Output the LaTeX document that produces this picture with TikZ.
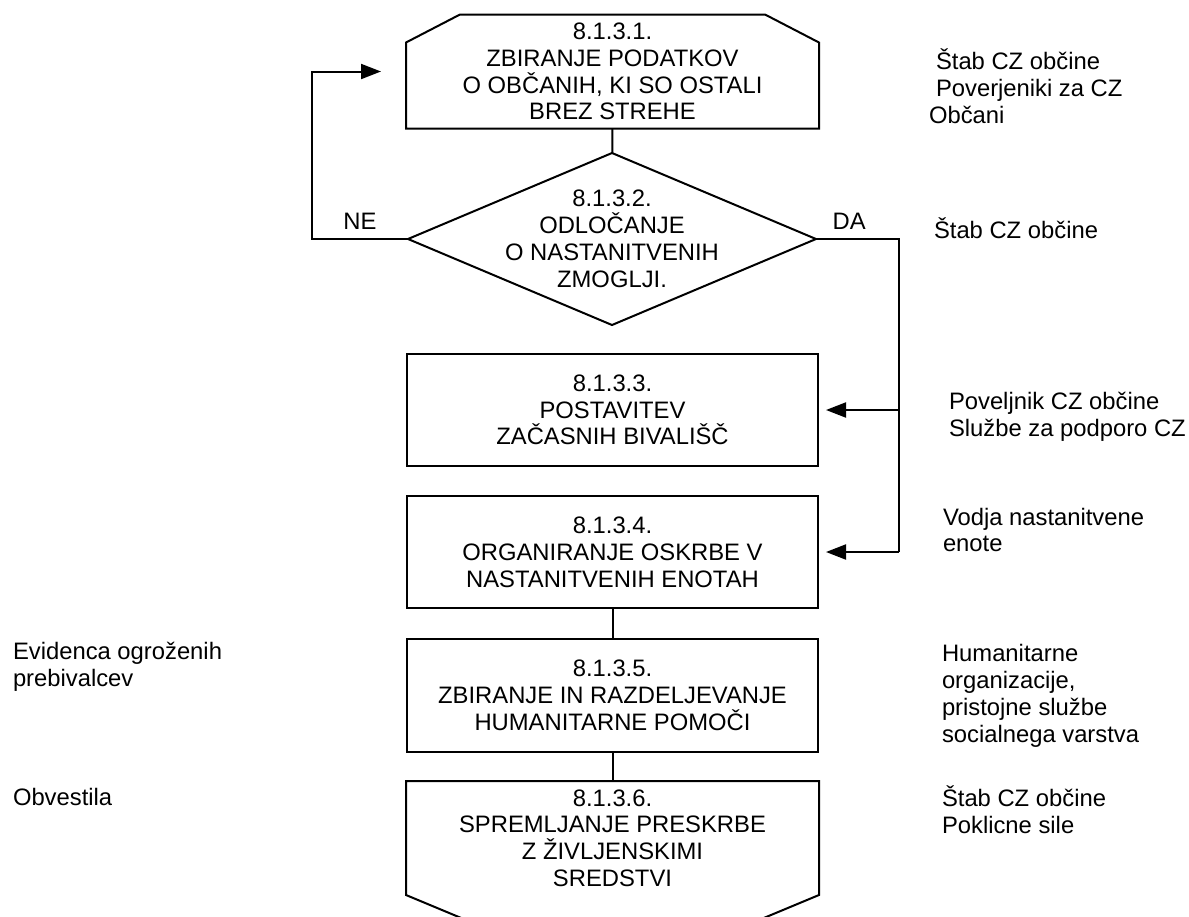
\documentclass[tikz,border=0pt]{standalone}
\usepackage{fontspec}
\setmainfont{Liberation Sans}
\usetikzlibrary{arrows.meta,positioning,calc}
\tikzstyle{every picture}+=[>={Triangle[length=10pt,width=7.5pt]}]
\tikzstyle{every node}=[font=\fontsize{11.9pt}{13.4pt}\selectfont]
\tikzstyle{korak}=[rectangle,draw=black,minimum width=205.5pt,minimum height=56pt,align=center,inner sep=0pt]
\tikzstyle{obris}=[rectangle,minimum width=205.5pt,minimum height=56pt,align=center,inner sep=0pt]
\tikzstyle{opis}=[anchor=west,align=left,inner sep=0pt]

\begin{document}
\begin{tikzpicture}[x=0.5pt,y=-0.5pt,line width=1pt]
\useasboundingbox (0,0) rectangle (1189,916);
%\tikzstyle{etiketa}=[midway,above]
\node[obris] (zbiranje) at (612.5,71.5) {8.1.3.1.\\ZBIRANJE PODATKOV\\O OBČANIH, KI SO OSTALI\\BREZ STREHE};
\draw (zbiranje.south west) -- ([yshift=-14pt]zbiranje.north west) -- ([xshift=27pt]zbiranje.north west)
  -- ([xshift=-27pt]zbiranje.north east) -- ([yshift=-14pt]zbiranje.north east) -- (zbiranje.south east) -- cycle;
\node[obris,minimum width=203pt,minimum height=85pt] (odlocanje) at (612,239) {8.1.3.2.\\ODLOČANJE\\O NASTANITVENIH\\ZMOGLJI.};
\draw (odlocanje.north) -- (odlocanje.east) -- (odlocanje.south) -- (odlocanje.west) -- cycle;
\node[korak] (postavitev) at (612.5,410) {8.1.3.3.\\POSTAVITEV\\ZAČASNIH BIVALIŠČ};
\node[korak] (oskrba) at (612.5,552) {8.1.3.4.\\ORGANIRANJE OSKRBE V\\NASTANITVENIH ENOTAH};
\node[korak,minimum height=56.5pt] (pomoc) at (612.5,695.5) {8.1.3.5.\\ZBIRANJE IN RAZDELJEVANJE\\HUMANITARNE POMOČI};
\node[obris] (preskrba) at (612.5,838) {8.1.3.6.\\SPREMLJANJE PRESKRBE\\Z ŽIVLJENSKIMI\\SREDSTVI};
\draw (preskrba.south west) -- (preskrba.north west) -- (preskrba.north east) -- (preskrba.south east)
  -- ++(-72,30) -- ($(preskrba.south west)+(72,30)$) -- cycle;

\coordinate (ne) at (312,239);
\coordinate (da) at (899,239);
\coordinate (dn) at (899,552);
\draw (zbiranje) -- (odlocanje);
\draw[->] (odlocanje.west) -- node[above=1pt] {NE} (ne) |- ([xshift=-12.5pt]zbiranje.west);
\draw (odlocanje.east) -- node[above=1pt,pos=0.4] {DA} (da) -- (dn);
\path[->] (da |- postavitev.east) edge ([xshift=3.5pt]postavitev.east)
          (dn) edge ([xshift=3.5pt]oskrba.east);
\path (oskrba) edge (pomoc)
      (pomoc) edge (preskrba);

\node[opis] (izv1) at (928,86.5) {\hspace*{3.5pt}Štab CZ občine\\\hspace*{3.5pt}Poverjeniki za CZ\\Občani};
\node[opis] (izv2) at (933,228) {Štab CZ občine};
\node[opis] (izv3) at (948,417) {Poveljnik CZ občine\\Službe za podporo CZ};
\node[opis] (izv4) at (942,530) {Vodja nastanitvene\\enote};
\node[opis] (izv5) at (941,696) {Humanitarne\\organizacije,\\pristojne službe\\socialnega varstva};
\node[opis] (izv6) at (941,810) {Štab CZ občine\\Poklicne sile};
\node[opis] (vir1) at (12,667) {Evidenca ogroženih\\prebivalcev};
\node[opis] (vir2) at (12,797) {Obvestila};
\end{tikzpicture}
\end{document}
